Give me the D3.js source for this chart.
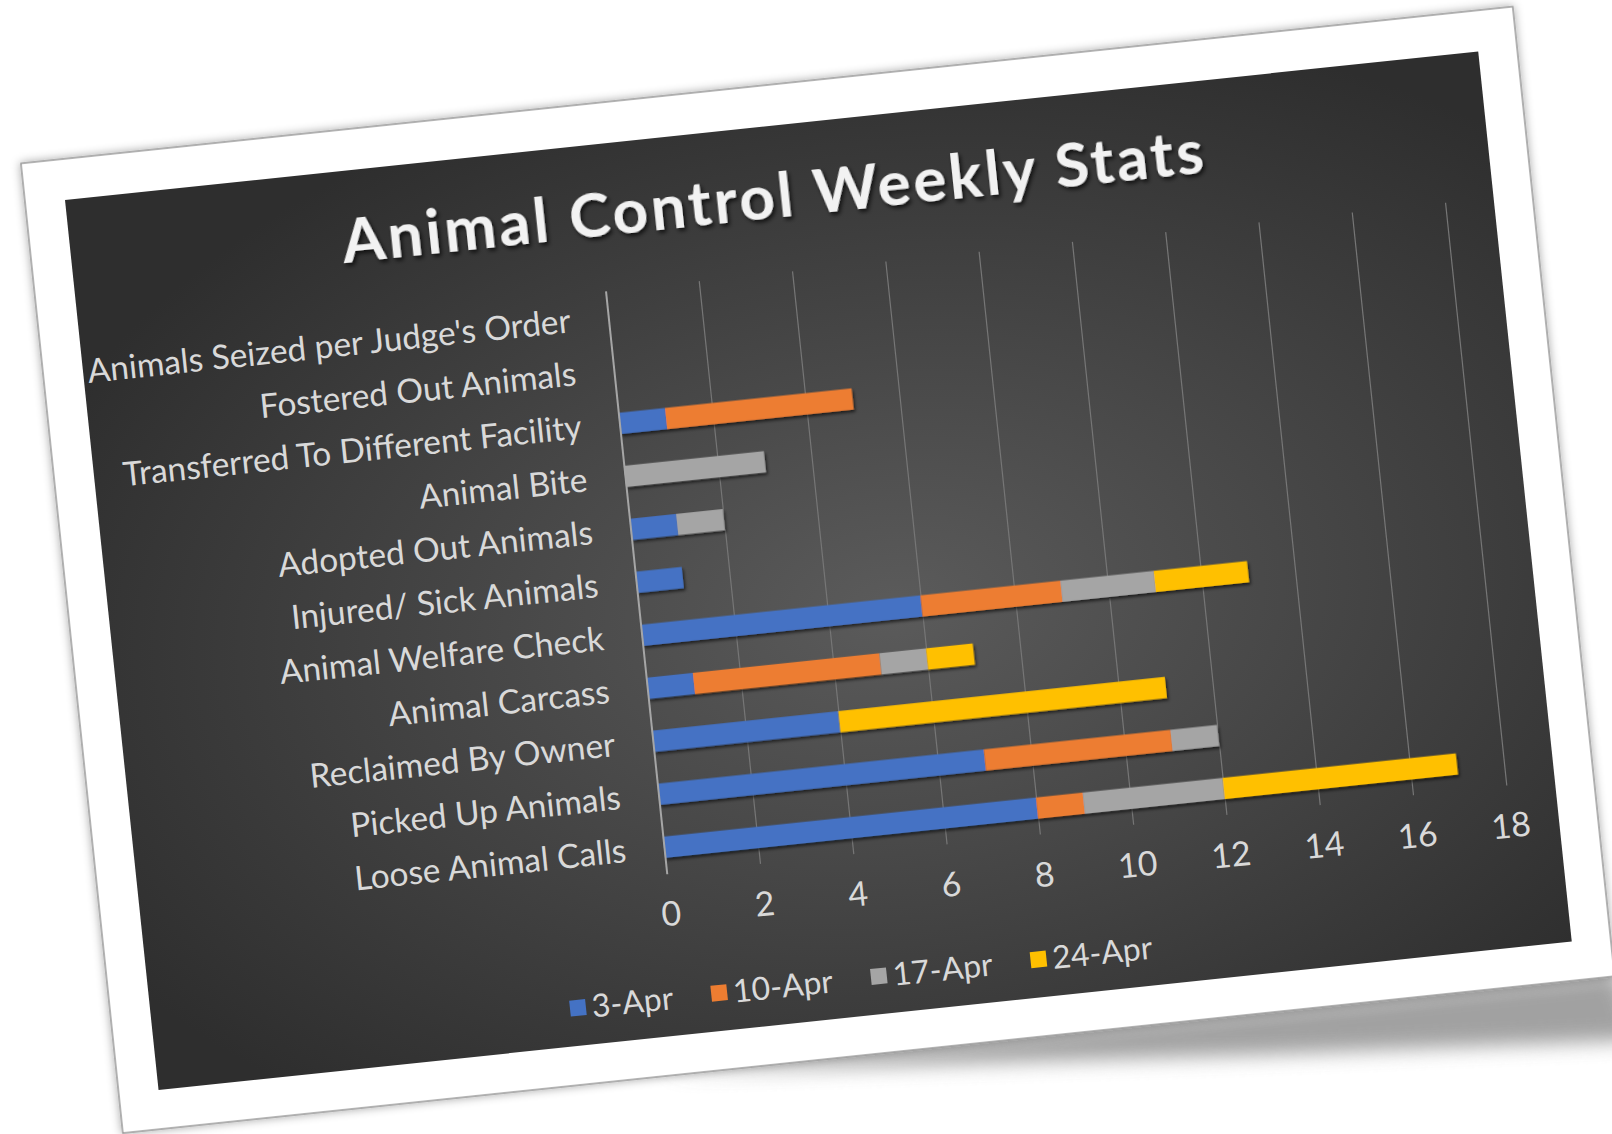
<!DOCTYPE html>
<html lang="en">
<head>
<meta charset="UTF-8">
<title>Animal Control Weekly Stats</title>
<script src="https://d3js.org/d3.v7.min.js"></script>
<style>
  html, body { margin: 0; padding: 0; background: #ffffff; }
  svg { display: block; }
  text { font-family: Lato, "Open Sans", sans-serif; }
</style>
</head>
<body>
<svg id="chart" width="1612" height="1134"></svg>
<script>
// categories, top row first
var categories = [
  "Animals Seized per Judge's Order",
  "Fostered Out Animals",
  "Transferred To Different Facility",
  "Animal Bite",
  "Adopted Out Animals",
  "Injured/ Sick Animals",
  "Animal Welfare Check",
  "Animal Carcass",
  "Reclaimed By Owner",
  "Picked Up Animals",
  "Loose Animal Calls"
];
var weeks = ["3-Apr", "10-Apr", "17-Apr", "24-Apr"];
var apr3  = [0, 0, 1, 0, 1, 1, 6, 1, 4, 7, 8];
var apr10 = [0, 0, 4, 0, 0, 0, 3, 4, 0, 4, 1];
var apr17 = [0, 0, 0, 3, 1, 0, 2, 1, 0, 1, 3];
var apr24 = [0, 0, 0, 0, 0, 0, 2, 1, 7, 0, 5];
var xTicks = [0, 2, 4, 6, 8, 10, 12, 14, 16, 18];
var colors = ["#4472C4", "#ED7D31", "#A5A5A5", "#FFC000"];

var rows = categories.map(function(c, i) {
  return { cat: c, "3-Apr": apr3[i], "10-Apr": apr10[i], "17-Apr": apr17[i], "24-Apr": apr24[i] };
});

var svg = d3.select("#chart");
var defs = svg.append("defs");

var bg = defs.append("radialGradient").attr("id", "bg")
  .attr("cx", "55%").attr("cy", "55%").attr("r", "65%");
bg.append("stop").attr("offset", "0%").attr("stop-color", "#5b5b5b");
bg.append("stop").attr("offset", "100%").attr("stop-color", "#2e2e2e");

var fs = defs.append("filter").attr("id", "barShadow")
  .attr("x", "-10%").attr("y", "-50%").attr("width", "130%").attr("height", "220%");
fs.append("feDropShadow").attr("dx", 1.5).attr("dy", 2.5).attr("stdDeviation", 1.5)
  .attr("flood-color", "#000").attr("flood-opacity", 0.6);

var ft = defs.append("filter").attr("id", "textShadow")
  .attr("x", "-5%").attr("y", "-30%").attr("width", "110%").attr("height", "160%");
ft.append("feDropShadow").attr("dx", 2).attr("dy", 3).attr("stdDeviation", 2)
  .attr("flood-color", "#000").attr("flood-opacity", 0.7);

var fc = defs.append("filter").attr("id", "cardShadow")
  .attr("x", "-5%").attr("y", "-5%").attr("width", "110%").attr("height", "115%");
fc.append("feDropShadow").attr("dx", 0).attr("dy", 0).attr("stdDeviation", 5)
  .attr("flood-color", "#000").attr("flood-opacity", 0.35);

var fb = defs.append("filter").attr("id", "blur")
  .attr("x", "-20%").attr("y", "-100%").attr("width", "140%").attr("height", "300%");
fb.append("feGaussianBlur").attr("stdDeviation", 10);

// whole picture is tilted like a photo
var W = 1421, H = 895;
var g = svg.append("g").attr("transform", "translate(65,200) rotate(-6)");

// shadow of the card under its lower right side
g.append("path")
  .attr("d", "M500,930 L1462,930 L1480,1000 L1100,975 Z")
  .attr("fill", "#8a8a8a").attr("opacity", 0.8)
  .attr("filter", "url(#blur)");

g.append("rect")
  .attr("x", -40).attr("y", -41).attr("width", 1500).attr("height", 975)
  .attr("fill", "#ffffff").attr("stroke", "#9a9a9a").attr("stroke-width", 1.5)
  .attr("filter", "url(#cardShadow)");

g.append("rect")
  .attr("width", W).attr("height", H).attr("fill", "url(#bg)");

// title
g.append("text")
  .attr("x", 271).attr("y", 92)
  .attr("textLength", 866).attr("lengthAdjust", "spacing")
  .attr("font-size", 62).attr("font-weight", 700)
  .attr("fill", "#f2f2f2")
  .attr("filter", "url(#textShadow)")
  .text("Animal Control Weekly Stats");

// scales
var plotTop = 147, plotBottom = 733, plotLeft = 528;
var x = d3.scaleLinear().domain([0, 18]).range([plotLeft, plotLeft + 18 * 46.9]);
var y = d3.scaleBand().domain(categories).range([plotTop, plotBottom]).paddingInner(0.6).paddingOuter(0.3);

// gridlines
g.append("g")
  .attr("transform", "translate(0," + plotBottom + ")")
  .call(d3.axisBottom(x).tickValues(xTicks.slice(1)).tickSize(-(plotBottom - plotTop)).tickFormat(""))
  .call(function(a) {
    a.select(".domain").remove();
    a.selectAll("line").attr("stroke", "#767676").attr("stroke-width", 1.2);
  });

// x tick labels
g.append("g")
  .attr("transform", "translate(0," + plotBottom + ")")
  .call(d3.axisBottom(x).tickValues(xTicks).tickSize(0).tickPadding(28))
  .call(function(a) {
    a.select(".domain").remove();
    a.selectAll("text")
      .attr("font-size", 34).attr("font-family", "Lato, sans-serif")
      .attr("fill", "#d9d9d9");
  });

// stacked bars
var stack = d3.stack().keys(weeks)(rows);
g.append("g").attr("filter", "url(#barShadow)")
  .selectAll("g")
  .data(stack)
  .join("g")
  .attr("fill", function(d, i) { return colors[i]; })
  .selectAll("rect")
  .data(function(d) { return d; })
  .join("rect")
  .attr("x", function(d) { return x(d[0]); })
  .attr("y", function(d) { return y(d.data.cat); })
  .attr("width", function(d) { return x(d[1]) - x(d[0]); })
  .attr("height", y.bandwidth());

// category axis
g.append("g")
  .attr("transform", "translate(" + plotLeft + ",0)")
  .call(d3.axisLeft(y).tickSize(0).tickPadding(38))
  .call(function(a) {
    a.select(".domain").attr("stroke", "#a6a6a6").attr("stroke-width", 2);
    a.selectAll("text")
      .attr("font-size", 33.5).attr("font-family", "Lato, sans-serif")
      .attr("fill", "#d9d9d9");
  });

// legend
var legend = g.append("g").attr("transform", "translate(0,857)");
var items = legend.selectAll("g").data(weeks).join("g");
items.append("rect")
  .attr("y", -8).attr("width", 16).attr("height", 16)
  .attr("fill", function(d, i) { return colors[i]; });
items.append("text")
  .attr("x", 22).attr("dy", "0.35em")
  .attr("font-size", 32).attr("fill", "#d9d9d9")
  .text(function(d) { return d; });

var widths = [];
items.each(function() { widths.push(this.getBBox().width); });
var gap = 38;
var total = d3.sum(widths) + gap * (widths.length - 1);
var pos = W / 2 - total / 2;
items.attr("transform", function(d, i) {
  var t = "translate(" + pos + ",0)";
  pos += widths[i] + gap;
  return t;
});
</script>
</body>
</html>
